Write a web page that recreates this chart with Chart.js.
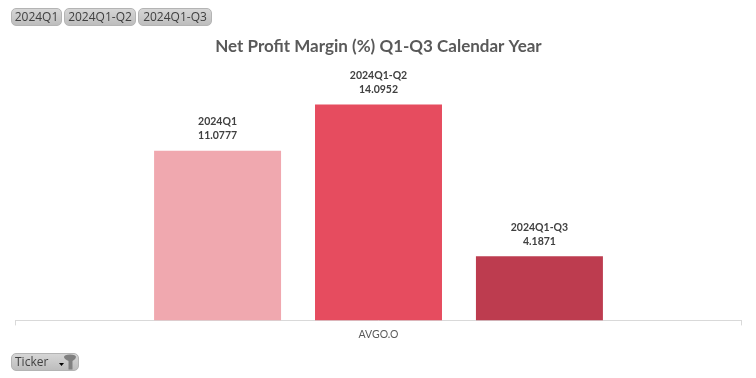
<!DOCTYPE html>
<html>
<head>
<meta charset="utf-8">
<title>Net Profit Margin</title>
<script src="https://cdn.jsdelivr.net/npm/chart.js@4"></script>
<style>
    html, body { margin: 0; padding: 0; background: #ffffff; overflow: hidden; }
    #wrap { position: relative; width: 756px; height: 378px; }
    .pill {
        position: absolute;
        box-sizing: border-box;
        height: 18px;
        line-height: 16px;
        text-align: center;
        font-family: 'Open Sans', sans-serif;
        font-size: 12px;
        color: #404040;
        background: linear-gradient(#d6d6d6, #bdbdbd);
        border: 1px solid #b4b4b4;
        border-radius: 5px;
        white-space: nowrap;
    }
    .pill svg { position: absolute; left: 44px; top: 0; }
</style>
</head>
<body>
<div id="wrap">
    <canvas id="marginChart" width="756" height="378"></canvas>
    <div id="periodPills"></div>
    <div class="pill" style="left:11px;top:353px;width:68px;text-align:left;padding-left:3px;">Ticker
        <svg width="22" height="16" viewBox="0 0 22 16">
            <path d="M3 9 L8 9 L5.5 12 Z" fill="#000000"/>
            <path d="M8 3 Q8 0.5 14 0.5 Q20 0.5 20 3 Q20 5 16.5 7 L16.5 15.5 L12.5 15.5 L12.5 7 Q8 5 8 3 Z" fill="#808080"/>
        </svg>
    </div>
</div>

<script>
// Chart data
const tickers = ['AVGO.O'];
const periods = ['2024Q1', '2024Q1-Q2', '2024Q1-Q3'];
const marginValues = [11.0777, 14.0952, 4.1871];
const barColors = ['#F0A8AF', '#E64C5F', '#BD3C4F'];
const pillLefts = [11, 64, 138];
const pillWidths = [51, 72, 74];

// Slicer buttons on top
const pillBox = document.getElementById('periodPills');
periods.forEach(function(name, i) {
    const pill = document.createElement('div');
    pill.className = 'pill';
    pill.style.left = pillLefts[i] + 'px';
    pill.style.top = '8px';
    pill.style.width = pillWidths[i] + 'px';
    pill.textContent = name;
    pillBox.appendChild(pill);
});

// Two line label above each bar: period name and value
const barLabels = {
    id: 'barLabels',
    afterDatasetsDraw: function(chart) {
        const ctx = chart.ctx;
        ctx.save();
        ctx.font = "bold 10.5px 'Lato', sans-serif";
        ctx.fillStyle = '#404040';
        ctx.textAlign = 'center';
        ctx.textBaseline = 'middle';
        chart.data.datasets.forEach(function(dataset, i) {
            const bar = chart.getDatasetMeta(i).data[0];
            ctx.fillText(dataset.label, bar.x, bar.y - 29);
            ctx.fillText(dataset.data[0].toFixed(4), bar.x, bar.y - 15);
        });
        ctx.restore();
    }
};

const marginChart = new Chart(document.getElementById('marginChart').getContext('2d'), {
    type: 'bar',
    data: {
        labels: tickers,
        datasets: periods.map(function(name, i) {
            return {
                label: name,
                data: [marginValues[i]],
                backgroundColor: barColors[i],
                categoryPercentage: 0.665,
                barPercentage: 0.789
            };
        })
    },
    options: {
        responsive: false,
        animation: false,
        layout: {
            padding: { left: 15.5, right: 14.5, top: 36, bottom: 34 }
        },
        plugins: {
            legend: { display: false },
            tooltip: { enabled: false },
            title: {
                display: true,
                text: 'Net Profit Margin (%) Q1-Q3 Calendar Year',
                color: '#595959',
                font: { family: "'Lato', sans-serif", size: 17, weight: 'bold' },
                padding: { top: 0, bottom: 19 }
            }
        },
        scales: {
            x: {
                border: { color: '#d9d9d9' },
                grid: { drawOnChartArea: false, color: '#d9d9d9', tickLength: 5 },
                ticks: {
                    color: '#595959',
                    font: { family: "'Lato', sans-serif", size: 10.5 },
                    padding: 3
                }
            },
            y: {
                display: false,
                min: 0,
                max: 16
            }
        }
    },
    plugins: [barLabels]
});
</script>
</body>
</html>
